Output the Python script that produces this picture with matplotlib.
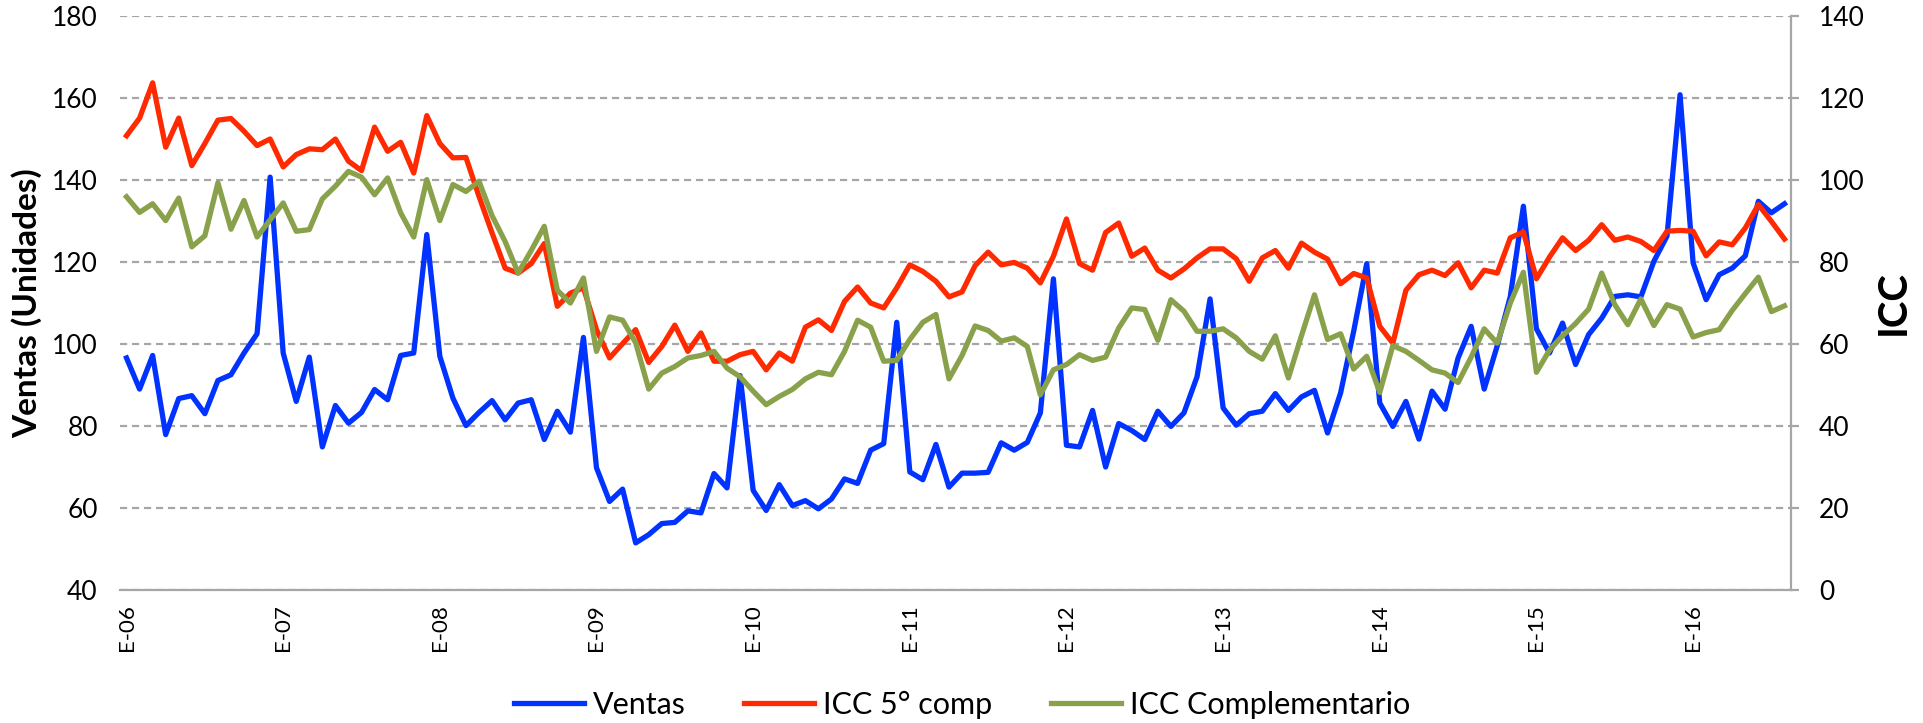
import matplotlib
matplotlib.use("Agg")
import matplotlib.pyplot as plt
import numpy as np

# ---------------- data ----------------
years = ["06", "07", "08", "09", "10", "11", "12", "13", "14", "15", "16"]
tick_labels = ["E-" + y for y in years]

ventas = [96.6, 89.0, 97.2, 77.9, 86.7, 87.4, 83.0, 91.1, 92.5, 97.8, 102.5, 140.7,
          97.8, 86.0, 96.8, 74.9, 85.0, 80.7, 83.3, 88.9, 86.4, 97.2, 97.8, 126.7,
          97.0, 86.8, 80.1, 83.3, 86.2, 81.5, 85.6, 86.4, 76.7, 83.6, 78.5, 101.6,
          69.8, 61.6, 64.6, 51.5, 53.5, 56.2, 56.5, 59.3, 58.8, 68.4, 64.9, 92.3,
          64.3, 59.4, 65.7, 60.6, 61.8, 59.8, 62.2, 67.1, 66.0, 74.1, 75.7, 105.3,
          68.8, 66.9, 75.5, 65.1, 68.5, 68.5, 68.7, 75.9, 74.1, 76.0, 83.2, 115.9,
          75.3, 74.9, 83.8, 70.0, 80.6, 78.9, 76.7, 83.6, 79.9, 83.2, 92.0, 111.0,
          84.4, 80.2, 83.0, 83.6, 87.9, 83.8, 87.1, 88.7, 78.3, 88.1, 103.1, 119.6,
          85.6, 79.9, 86.0, 76.8, 88.5, 84.1, 96.6, 104.3, 89.0, 99.6, 111.6, 133.6,
          103.7, 97.8, 105.1, 95.0, 102.3, 106.3, 111.6, 112.0, 111.5, 120.2, 126.3, 160.8,
          119.8, 110.8, 116.9, 118.5, 121.5, 134.8, 132.0, 134.2]

icc_5comp = [110.8, 115.1, 123.7, 108.0, 115.1, 103.5, 108.9, 114.6, 115.0, 111.9, 108.4, 110.0,
             103.2, 106.2, 107.6, 107.4, 110.0, 104.6, 102.3, 112.9, 107.0, 109.2, 101.7, 115.7,
             108.9, 105.4, 105.5, 96.0, 87.1, 78.5, 77.3, 79.6, 84.5, 69.2, 72.4, 73.7,
             63.5, 56.6, 60.1, 63.5, 55.5, 59.4, 64.6, 58.2, 62.7, 55.8, 55.8, 57.4,
             58.2, 53.7, 57.8, 55.8, 64.1, 65.9, 63.3, 70.4, 73.9, 70.0, 68.8, 73.7,
             79.3, 77.7, 75.3, 71.5, 72.7, 79.1, 82.4, 79.3, 79.9, 78.5, 74.9, 81.4,
             90.5, 79.6, 78.0, 87.2, 89.5, 81.4, 83.4, 78.0, 76.1, 78.3, 81.0, 83.2,
             83.2, 80.8, 75.3, 81.0, 82.8, 78.5, 84.6, 82.4, 80.7, 74.7, 77.2, 76.1,
             64.3, 60.2, 73.1, 76.9, 78.0, 76.7, 79.8, 73.7, 78.0, 77.3, 85.9, 87.3,
             75.9, 81.2, 85.9, 82.8, 85.3, 89.1, 85.3, 86.1, 85.0, 82.8, 87.5, 87.7,
             87.5, 81.5, 84.9, 84.2, 88.3, 94.0, 89.9, 85.6]

icc_complementario = [95.9, 92.1, 94.2, 90.1, 95.6, 83.7, 86.4, 99.3, 88.0, 95.0, 86.1, 90.3,
                      94.4, 87.5, 87.9, 95.4, 98.5, 102.1, 100.7, 96.4, 100.5, 92.0, 86.1, 100.1,
                      90.1, 98.9, 97.2, 99.7, 91.3, 85.0, 77.3, 82.8, 88.7, 73.1, 70.0, 76.1,
                      58.2, 66.6, 65.8, 60.3, 49.0, 52.9, 54.5, 56.6, 57.2, 58.2, 54.1, 52.0,
                      48.5, 45.2, 47.2, 48.9, 51.5, 53.1, 52.5, 58.2, 65.8, 64.1, 55.8, 56.0,
                      61.1, 65.3, 67.2, 51.5, 57.2, 64.4, 63.3, 60.7, 61.5, 59.4, 47.6, 53.7,
                      55.0, 57.4, 56.0, 56.8, 63.9, 68.8, 68.4, 60.9, 70.8, 68.0, 63.1, 63.1,
                      63.7, 61.5, 58.2, 56.3, 62.0, 51.7, 62.0, 72.0, 61.1, 62.5, 53.9, 57.0,
                      48.2, 59.6, 58.2, 56.0, 53.7, 52.9, 50.6, 56.8, 63.7, 60.2, 70.0, 77.5,
                      53.1, 58.5, 62.0, 65.0, 68.5, 77.3, 69.6, 64.7, 71.0, 64.5, 69.6, 68.5,
                      61.7, 62.8, 63.5, 68.2, 72.3, 76.3, 67.9, 69.3]

left_ticks = [40, 60, 80, 100, 120, 140, 160, 180]
right_ticks = [0, 20, 40, 60, 80, 100, 120, 140]

# ---------------- style ----------------
FONT = ["Lato", "DejaVu Sans"]
plt.rcParams["font.family"] = FONT
BLUE = "#0033FF"
RED = "#FF2A00"
GREEN = "#8AA14B"
GRID = "#A6A6A6"

fig = plt.figure(figsize=(19.24, 7.23), dpi=100)
ax = fig.add_axes([120 / 1924, 133 / 723, (1791 - 120) / 1924, (590 - 16) / 723])
ax2 = ax.twinx()

x = np.arange(len(ventas))
l1, = ax.plot(x, ventas, color=BLUE, lw=3.8, solid_joinstyle="round", label="Ventas", zorder=3)
l2, = ax2.plot(x, icc_5comp, color=RED, lw=3.8, solid_joinstyle="round", label="ICC 5° comp", zorder=3)
l3, = ax2.plot(x, icc_complementario, color=GREEN, lw=3.8, solid_joinstyle="round",
               label="ICC Complementario", zorder=4)

ax.set_xlim(-0.5, len(ventas) - 0.5)
ax.set_ylim(40, 180)
ax2.set_ylim(0, 140)
ax.set_yticks(left_ticks)
ax2.set_yticks(right_ticks)
ax.set_xticks(np.arange(0, 12 * len(tick_labels), 12))
ax.set_xticklabels(tick_labels, rotation=90)

for a in (ax, ax2):
    for s in ("top", "left", "bottom", "right"):
        a.spines[s].set_visible(False)
ax.spines["bottom"].set_visible(True)
ax.spines["bottom"].set_color(GRID)
ax.spines["bottom"].set_linewidth(1.6)
ax2.spines["right"].set_visible(True)
ax2.spines["right"].set_color(GRID)
ax2.spines["right"].set_linewidth(1.6)

ax.yaxis.grid(True, color=GRID, lw=1.6, linestyle=(0, (3.2, 2.2)))
ax.set_axisbelow(True)

ax.tick_params(axis="y", length=0, pad=16, labelsize=19)
ax.tick_params(axis="x", length=0, pad=10, labelsize=16)
ax2.tick_params(axis="y", length=6, width=1.6, color=GRID, direction="out", pad=14, labelsize=19)

ax.set_ylabel("Ventas (Unidades)", fontsize=24, fontweight="bold", va="center")
ax.yaxis.set_label_coords((27 - 120) / 1671, 0.5)
ax2.set_ylabel("ICC", fontsize=29, fontweight="bold", va="center")
ax2.yaxis.set_label_coords((1893 - 120) / 1671, 0.5)

fig.legend(handles=[l1, l2, l3], loc="center", bbox_to_anchor=(0.5, 1 - 705 / 723),
           ncol=3, frameon=False, fontsize=22, handlelength=2.3, handletextpad=0.3,
           columnspacing=1.9)

fig.savefig("out.png", dpi=100)
